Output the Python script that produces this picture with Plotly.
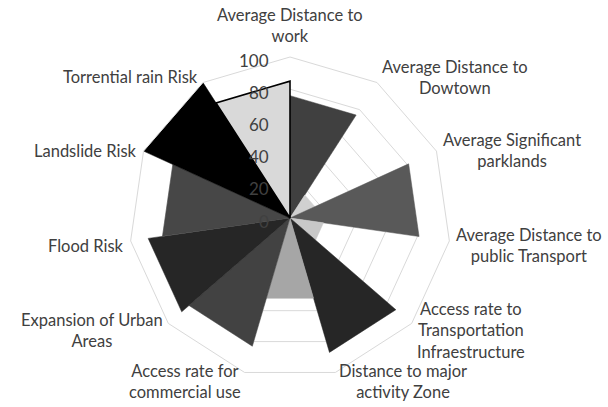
import math
import plotly.graph_objects as go

categories = [
    "Average Distance to<br>work",
    "Average Distance to<br>Dowtown",
    "Average Significant<br>parklands",
    "Average Distance to<br>public Transport",
    "Access rate to<br>Transportation<br>Infraestructure",
    "Distance to major<br>activity Zone",
    "Access rate for<br>commercial use",
    "Expansion of Urban<br>Areas",
    "Flood Risk",
    "Landslide Risk",
    "Torrential rain Risk",
]
# value of each wedge spanning from category i to category i+1 (clockwise)
wedge_values = [76, 17, 81, 21, 87, 52, 83, 89, 80, 100, 85]
wedge_colors = ["#404040", "#d0d0d0", "#595959", "#c8c8c8", "#262626", "#a6a6a6",
                "#424242", "#262626", "#474747", "#000000", "#d9d9d9"]
radial_ticks = [0, 20, 40, 60, 80, 100]
radial_max = 100

fig = go.Figure()
n = len(categories)
for i in range(n):
    a = categories[i]
    b = categories[(i + 1) % n]
    v = wedge_values[i]
    outlined = (i == n - 1)
    fig.add_trace(go.Scatterpolar(
        r=[0, v, v, 0],
        theta=[a, a, b, a],
        mode="lines",
        fill="toself",
        fillcolor=wedge_colors[i],
        line=dict(color="#000000" if outlined else wedge_colors[i], width=1.6 if outlined else 0.5),
        hoverinfo="skip",
        showlegend=False,
    ))

cx, cy, R = 290, 218, 161
W, H = 608, 407
family = "Lato, Open Sans, sans-serif"
label_font = dict(family=family, size=16.5, color="#404040")

annotations = []
# category labels placed just outside each polygon vertex
gap = 5
for i, cat in enumerate(categories):
    ang = math.radians(90 - i * 360 / n)
    c, s = math.cos(ang), math.sin(ang)
    px = cx + (R + gap) * c
    py = cy - (R + gap) * s
    if abs(c) < 0.2 and s > 0:
        xanchor, yanchor = "center", "bottom"
        py = cy - R - 9
    else:
        xanchor = "left" if c > 0 else "right"
        yanchor = "middle"
        py = py + 4 - 6 * max(s, 0)
    annotations.append(dict(
        x=px / W, y=1 - py / H, xref="paper", yref="paper",
        text=cat, showarrow=False, xanchor=xanchor, yanchor=yanchor,
        align="center", font=label_font,
    ))

# radial value labels, left of the vertical axis
for t in radial_ticks:
    py = cy - R * t / radial_max + 3
    annotations.append(dict(
        x=(cx - 19) / W, y=1 - py / H, xref="paper", yref="paper",
        text=str(t), showarrow=False, xanchor="right", yanchor="middle",
        font=dict(family=family, size=17, color="#404040"),
    ))

fig.update_layout(
    width=W, height=H,
    margin=dict(l=0, r=0, t=0, b=0),
    paper_bgcolor="white",
    font=dict(family=family, color="#404040"),
    annotations=annotations,
    polar=dict(
        domain=dict(x=[(cx - R) / W, (cx + R) / W], y=[(H - cy - R) / H, (H - cy + R) / H]),
        gridshape="linear",
        bgcolor="white",
        angularaxis=dict(
            type="category",
            categoryorder="array",
            categoryarray=categories,
            direction="clockwise",
            rotation=90,
            showgrid=False,
            showline=True,
            linecolor="#d9d9d9",
            linewidth=1,
            ticks="",
            showticklabels=False,
        ),
        radialaxis=dict(
            range=[0, radial_max],
            tickvals=radial_ticks,
            angle=90,
            showline=False,
            ticks="",
            showticklabels=False,
            gridcolor="#d9d9d9",
            gridwidth=1,
        ),
    ),
)

fig.write_html("out.html")
